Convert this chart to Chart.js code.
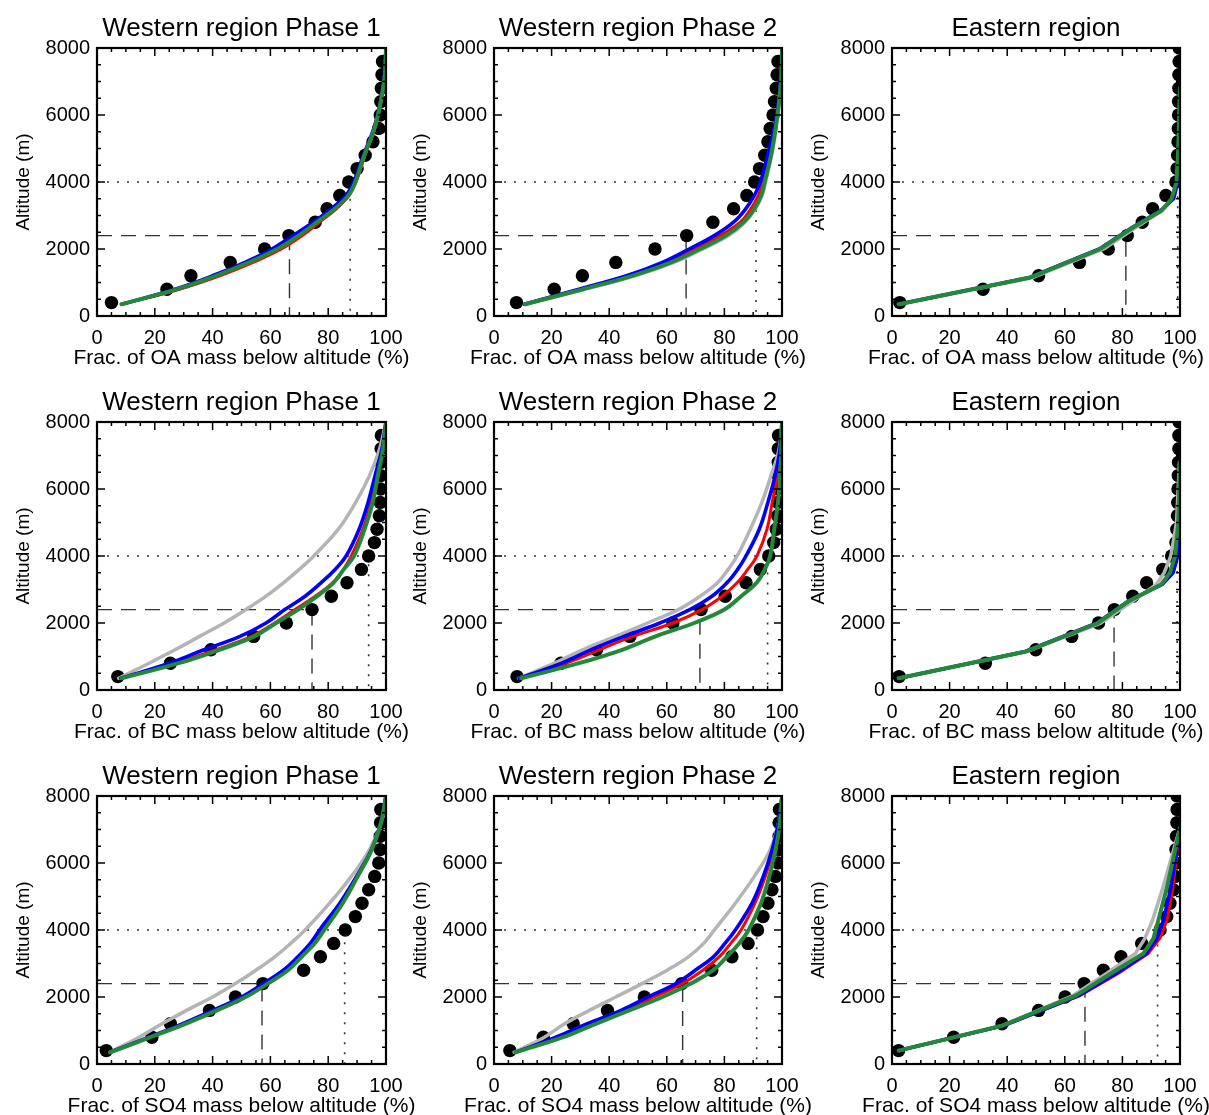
<!DOCTYPE html>
<html>
<head>
<meta charset="utf-8">
<script src="https://cdn.jsdelivr.net/npm/chart.js@4.4.1/dist/chart.umd.min.js"></script>
<style>
  html, body { margin: 0; padding: 0; background: #fff; width: 1209px; height: 1115px; overflow: hidden; }
  canvas { position: absolute; }
</style>
</head>
<body>
<script>
// altitudes (m)
var obsAlt = [400, 800, 1200, 1600, 2000, 2400, 2800, 3200, 3600, 4000, 4400, 4800, 5200, 5600, 6000, 6400, 6800, 7200, 7600, 8000];
var westAlt = [350, 800, 1200, 1600, 2000, 2400, 2800, 3200, 3600, 4000, 4800, 5600, 6400, 7200, 8000];
var eastAlt = [350, 1150, 2000, 2650, 3150, 3500, 4000, 5000, 6800];
var eastAltSO4 = [400, 1150, 2050, 2700, 3300, 3750, 4300, 5250, 7050];

var colTitles = ['Western region Phase 1', 'Western region Phase 2', 'Eastern region'];
var species = ['OA', 'BC', 'SO4'];
var xTicks = [0, 20, 40, 60, 80, 100];
var yTicks = [0, 2000, 4000, 6000, 8000];

// x where the 2400 m (dashed) and 4000 m (dotted) guides meet, panel order row by row
var dash2400 = [66.6, 66.7, 81.2, 74.4, 71.5, 77.1, 57.1, 65.5, 67.0];
var dot4000 = [87.6, 91.0, 99.2, 94.0, 95.0, 99.0, 85.7, 91.2, 92.2];

// OA, western phase 1
var oaW1Obs = [5.0, 24.2, 32.5, 46.1, 58.0, 66.4, 75.5, 79.6, 84.0, 87.1, 90.0, 92.8, 95.5, 97.5, 98.0, 98.2, 98.4, 98.6, 98.8];
var oaW1Gray = [8.6, 28, 41.5, 53, 62.8, 70.2, 76.5, 82.5, 87.1, 89.5, 92.6, 96.0, 98.2, 99.6, 100];
var oaW1Red = [8.7, 28.5, 42.5, 54, 63.8, 71, 77, 82.8, 87.2, 89.6, 92.7, 96.1, 98.2, 99.6, 100];
var oaW1Blue = [8.5, 27, 40, 51.2, 60.5, 67.8, 74.8, 81, 86.2, 88.8, 92.2, 95.8, 98.1, 99.5, 100];
var oaW1Green = [8.5, 27.7, 41.1, 52.6, 62.4, 69.8, 76.1, 82.3, 87.0, 89.4, 92.5, 96.0, 98.2, 99.6, 100];

// OA, western phase 2
var oaW2Obs = [7.8, 20.9, 30.7, 42.3, 55.9, 66.9, 76.0, 83.2, 87.8, 90.5, 92.2, 94.0, 95.1, 95.9, 96.9, 97.4, 98.0, 98.3, 98.6];
var oaW2Gray = [10.8, 31.5, 49, 62.5, 72.5, 81.5, 87.2, 90.8, 93.1, 94.3, 96.4, 97.9, 99.0, 99.8, 100];
var oaW2Red = [10.6, 30, 47, 60, 69.5, 78.5, 85.5, 89.2, 91.8, 93.5, 95.8, 97.6, 99.0, 99.7, 100];
var oaW2Blue = [10.5, 29.5, 46, 58.5, 67.8, 76.5, 83.2, 87.4, 90.4, 92.5, 95.0, 97.3, 98.8, 99.6, 100];
var oaW2Green = [10.7, 31, 48, 61.5, 71.5, 80.5, 86.6, 90.4, 92.8, 94.0, 96.2, 97.8, 99.0, 99.8, 100];

// OA, eastern
var oaEObs = [2.7, 31.6, 50.9, 65.1, 75.1, 81.7, 86.9, 90.5, 95.1, 98.6, 99.0, 99.2, 99.3, 99.4, 99.5, 99.5, 99.6, 99.6, 99.7, 99.7];
var oaEGray = [2.6, 49, 73.5, 84.8, 94, 97.5, 99.0, 99.5, 100];
var oaERed = [2.3, 48, 72.3, 83.8, 93.6, 97.0, 98.8, 99.4, 100];
var oaEBlue = [2.3, 47.8, 72, 83.5, 93.3, 97.8, 99.2, 99.6, 100];
var oaEGreen = [2.3, 48, 72.3, 83.8, 93.6, 97.1, 98.8, 99.4, 100];

// BC, western phase 1
var bcW1Obs = [7.2, 25.4, 39.4, 54.2, 65.5, 74.4, 81.1, 86.5, 91.5, 94.0, 96.0, 96.9, 97.7, 98.0, 98.1, 98.2, 98.3, 98.3, 98.4];
var bcW1Gray = [7.5, 18, 27, 35.5, 44, 51.5, 58.5, 64.5, 70, 75, 83.5, 89.5, 94.3, 97.8, 100];
var bcW1Red = [8.5, 27, 41, 53.5, 61.5, 68.5, 75.5, 81.5, 85.3, 88, 92, 94.8, 97, 98.9, 100];
var bcW1Blue = [8.2, 25, 37, 49.5, 58.5, 65, 72, 77.5, 82.4, 86.2, 90.7, 93.8, 96.2, 98.6, 100];
var bcW1Green = [8.5, 28.3, 42.3, 54.4, 62.0, 69.6, 76.2, 81.8, 85.4, 88.9, 92.6, 95.4, 97.2, 99, 100];

// BC, western phase 2
var bcW2Obs = [8.0, 23.2, 35.6, 47.2, 62.1, 71.9, 80.3, 87.5, 92.5, 95.4, 97.1, 98.0, 98.5, 98.6, 98.6, 98.7, 98.7, 98.7, 98.8];
var bcW2Gray = [8.5, 21, 30.7, 42.2, 53.3, 64.0, 71.6, 77.6, 81.3, 84.4, 89.0, 93.0, 96.2, 99, 100];
var bcW2Red = [9, 25, 36.5, 48.2, 62.1, 72.2, 79.2, 84.4, 88.1, 91.3, 94.8, 96.6, 98.4, 99.5, 100];
var bcW2Blue = [8.7, 23.5, 33.6, 45.1, 57.6, 68.0, 75.7, 80.9, 84.6, 87.5, 92.1, 95.1, 97.6, 99.3, 100];
var bcW2Green = [9.5, 29.5, 44.5, 56.1, 69.5, 80.0, 85.8, 91.2, 94.0, 95.9, 97.3, 98.6, 99.3, 99.8, 100];

// BC, eastern
var bcEObs = [2.5, 32.4, 49.9, 62.4, 71.7, 77.2, 83.6, 88.4, 94.0, 97.1, 98.6, 98.9, 99.1, 99.2, 99.3, 99.4, 99.5, 99.6, 99.6, 99.7];
var bcEGray = [2.5, 47, 72.5, 83.5, 91.8, 94.5, 96.8, 98.8, 99.8];
var bcERed = [2.3, 46.5, 71.5, 82.3, 93.7, 97, 98.8, 99.5, 100];
var bcEBlue = [2.3, 46.3, 71.2, 82.0, 93.8, 97.6, 99.2, 99.6, 100];
var bcEGreen = [2.3, 46.5, 71.5, 82.1, 93.5, 96.5, 98.3, 99.4, 100];

// SO4, western phase 1
var so4W1Obs = [3.2, 19.0, 25.4, 38.9, 47.9, 57.4, 71.5, 77.3, 81.9, 85.9, 89.4, 91.7, 94.0, 96.1, 97.5, 98.0, 98.0, 98.1, 98.2];
var so4W1Gray = [4.5, 14.5, 22.5, 31, 40, 47.9, 55, 61.5, 67, 72, 80.5, 88, 94.3, 98.3, 100];
var so4W1Red = [4.5, 18.3, 30, 40.8, 50.7, 58.3, 65.3, 70.2, 74.6, 77.8, 84.5, 90, 95, 98.2, 100];
var so4W1Blue = [4.5, 18, 29.5, 40, 50, 57.5, 64.5, 69.5, 73.8, 77.0, 84, 89.8, 95, 98.2, 100];
var so4W1Green = [4.5, 18.5, 30.6, 41.5, 51.4, 59.1, 66.1, 70.8, 75.3, 78.6, 85.0, 90.2, 95.1, 98.3, 100];

// SO4, western phase 2
var so4W2Obs = [5.5, 17.1, 27.5, 39.4, 52.2, 65.2, 75.6, 82.6, 88.2, 91.5, 93.4, 95.1, 96.5, 97.7, 98.6, 98.8, 99.0, 99.0, 99.1];
var so4W2Gray = [7, 17.5, 24.5, 33.1, 42.3, 51.4, 60.1, 67.5, 72.8, 76.5, 83.8, 90.4, 95.9, 98.8, 100];
var so4W2Red = [7.5, 22.5, 33.5, 45.3, 55.5, 65.3, 72.5, 78.2, 82.2, 85.8, 90.6, 94.2, 97.0, 99.0, 100];
var so4W2Blue = [7.5, 21.5, 32.2, 44.1, 53.5, 63.2, 69.9, 76.2, 80.2, 83.8, 89.6, 93.5, 96.6, 98.8, 100];
var so4W2Green = [7.5, 24, 35.3, 46.9, 58.5, 68.3, 76.1, 80.8, 85.1, 88.4, 92.7, 95.6, 97.8, 99.3, 100];

// SO4, eastern
var so4EObs = [2.3, 21.4, 38.2, 50.9, 60.1, 66.7, 73.4, 79.5, 86.7, 93.1, 95.4, 96.5, 97.7, 98.3, 98.5, 98.6, 98.8, 98.9, 99.0, 99.0];
var so4EGray = [2.5, 38.5, 63, 74.5, 84.5, 87.8, 90.5, 94.0, 100];
var so4ERed = [2.3, 39, 65.5, 78.5, 89, 93, 95.5, 97.5, 100];
var so4EBlue = [2.3, 38.8, 65, 77.8, 88.3, 92, 94.3, 96.8, 100];
var so4EGreen = [2.3, 38.5, 64, 76, 87.3, 90.8, 92.5, 95.4, 100];

var FONT = "'Liberation Sans', Arial, Helvetica, sans-serif";

// page placement of each column / row, and the plot box inside the canvas
var colLeft = [0, 400, 800];
var colWidth = [420, 420, 409];
var plotLeft = [97, 94, 92];
var plotRight = [386, 382, 380];
var rowTop = [0, 374, 748];
var canvasHeight = 374;

var panels = [
    { obs: oaW1Obs, alt: westAlt, lines: [oaW1Gray, oaW1Red, oaW1Blue, oaW1Green] },
    { obs: oaW2Obs, alt: westAlt, lines: [oaW2Gray, oaW2Red, oaW2Blue, oaW2Green] },
    { obs: oaEObs, alt: eastAlt, lines: [oaEGray, oaERed, oaEBlue, oaEGreen] },
    { obs: bcW1Obs, alt: westAlt, lines: [bcW1Gray, bcW1Red, bcW1Blue, bcW1Green] },
    { obs: bcW2Obs, alt: westAlt, lines: [bcW2Gray, bcW2Red, bcW2Blue, bcW2Green] },
    { obs: bcEObs, alt: eastAlt, lines: [bcEGray, bcERed, bcEBlue, bcEGreen] },
    { obs: so4W1Obs, alt: westAlt, lines: [so4W1Gray, so4W1Red, so4W1Blue, so4W1Green] },
    { obs: so4W2Obs, alt: westAlt, lines: [so4W2Gray, so4W2Red, so4W2Blue, so4W2Green] },
    { obs: so4EObs, alt: eastAltSO4, lines: [so4EGray, so4ERed, so4EBlue, so4EGreen] }
];

var lineColors = ['#b4b4b4', '#ff0000', '#0000ff', '#23883a'];
var lineWidths = [3.5, 3, 3.6, 4];

function pairs(xs, ys) {
    return xs.map(function (v, i) { return { x: v, y: ys[i] }; });
}

// black box with inward ticks on all four sides
var frame = {
    id: 'frame',
    afterDatasetsDraw: function (chart) {
        var ctx = chart.ctx;
        var a = chart.chartArea;
        var x = chart.scales.x;
        var y = chart.scales.y;
        ctx.save();
        ctx.strokeStyle = '#000';
        ctx.lineWidth = 1.5;
        ctx.beginPath();
        for (var v = 0; v <= 100; v += 5) {
            var px = x.getPixelForValue(v);
            var len = v % 20 === 0 ? 8 : 4;
            ctx.moveTo(px, a.bottom); ctx.lineTo(px, a.bottom - len);
            ctx.moveTo(px, a.top); ctx.lineTo(px, a.top + len);
        }
        for (var h = 0; h <= 8000; h += 500) {
            var py = y.getPixelForValue(h);
            var l2 = h % 2000 === 0 ? 8 : 4;
            ctx.moveTo(a.left, py); ctx.lineTo(a.left + l2, py);
            ctx.moveTo(a.right, py); ctx.lineTo(a.right - l2, py);
        }
        ctx.stroke();
        ctx.lineWidth = 2.2;
        ctx.strokeRect(a.left, a.top, a.right - a.left, a.bottom - a.top);
        ctx.restore();
    }
};

panels.forEach(function (p, i) {
    var r = Math.floor(i / 3);
    var c = i % 3;
    var canvas = document.createElement('canvas');
    canvas.width = colWidth[c];
    canvas.height = canvasHeight;
    canvas.style.left = colLeft[c] + 'px';
    canvas.style.top = rowTop[r] + 'px';
    document.body.appendChild(canvas);

    var east = c === 2;
    var datasets = [];

    // guide lines at 2400 m and 4000 m
    datasets.push({
        data: [{ x: 0, y: 2400 }, { x: dash2400[i], y: 2400 }, { x: dash2400[i], y: 0 }],
        showLine: true, borderColor: '#333', borderWidth: 1.4, borderDash: [15, 9],
        pointRadius: 0, tension: 0, order: 6
    });
    datasets.push({
        data: [{ x: 0, y: 4000 }, { x: dot4000[i], y: 4000 }, { x: dot4000[i], y: 0 }],
        showLine: true, borderColor: '#333', borderWidth: 1.6, borderDash: [2, 8],
        pointRadius: 0, tension: 0, order: 5
    });

    // observations
    datasets.push({
        data: pairs(p.obs, obsAlt),
        showLine: false, pointRadius: 6.7, pointBackgroundColor: '#000',
        pointBorderWidth: 0, order: 4
    });

    // model lines: gray, red, blue, green (green on top)
    p.lines.forEach(function (xs, k) {
        datasets.push({
            data: pairs(xs, p.alt),
            showLine: true, borderColor: lineColors[k], borderWidth: lineWidths[k],
            borderJoinStyle: 'round', borderCapStyle: 'round',
            pointRadius: 0, tension: east ? 0 : 0.4, order: 3 - k
        });
    });

    // panel title and x title, centred on the plot box and not squeezed to its width
    var panelText = {
        id: 'panelText',
        afterDraw: function (chart) {
            var ctx = chart.ctx;
            var a = chart.chartArea;
            var cx = (a.left + a.right) / 2;
            ctx.save();
            ctx.fillStyle = '#000';
            ctx.textAlign = 'center';
            ctx.textBaseline = 'middle';
            ctx.font = '26px ' + FONT;
            ctx.fillText(colTitles[c], cx, a.top - 19);
            ctx.font = '21px ' + FONT;
            ctx.fillText('Frac. of ' + species[r] + ' mass below altitude (%)', cx, a.bottom + 42);
            ctx.restore();
        }
    };

    new Chart(canvas.getContext('2d'), {
        type: 'scatter',
        data: { datasets: datasets },
        options: {
            responsive: false,
            animation: false,
            devicePixelRatio: 1,
            events: [],
            layout: {
                padding: { left: plotLeft[c] - 85, right: colWidth[c] - plotRight[c], top: 48, bottom: 4 }
            },
            plugins: {
                legend: { display: false },
                tooltip: { enabled: false },
                title: { display: false }
            },
            scales: {
                x: {
                    type: 'linear',
                    min: 0,
                    max: 100,
                    grid: { display: false, drawTicks: false },
                    border: { display: false },
                    afterBuildTicks: function (s) { s.ticks = xTicks.map(function (v) { return { value: v }; }); },
                    ticks: {
                        padding: 10, color: '#000', font: { family: FONT, size: 20 }, maxRotation: 0, autoSkip: false,
                        callback: function (v) { return String(v); }
                    },
                    afterFit: function (s) { s.height = 54; s.paddingLeft = 0; s.paddingRight = 0; }
                },
                y: {
                    type: 'linear',
                    min: 0,
                    max: 8000,
                    grid: { display: false, drawTicks: false },
                    border: { display: false },
                    afterBuildTicks: function (s) { s.ticks = yTicks.map(function (v) { return { value: v }; }); },
                    ticks: {
                        padding: 7, color: '#000', font: { family: FONT, size: 20 }, autoSkip: false,
                        callback: function (v) { return String(v); }
                    },
                    title: {
                        display: true,
                        text: 'Altitude (m)',
                        color: '#000',
                        font: { family: FONT, size: 19 },
                        padding: 0
                    },
                    afterFit: function (s) { s.width = 85; s.paddingTop = 0; s.paddingBottom = 0; }
                }
            }
        },
        plugins: [frame, panelText]
    });
});
</script>
</body>
</html>
